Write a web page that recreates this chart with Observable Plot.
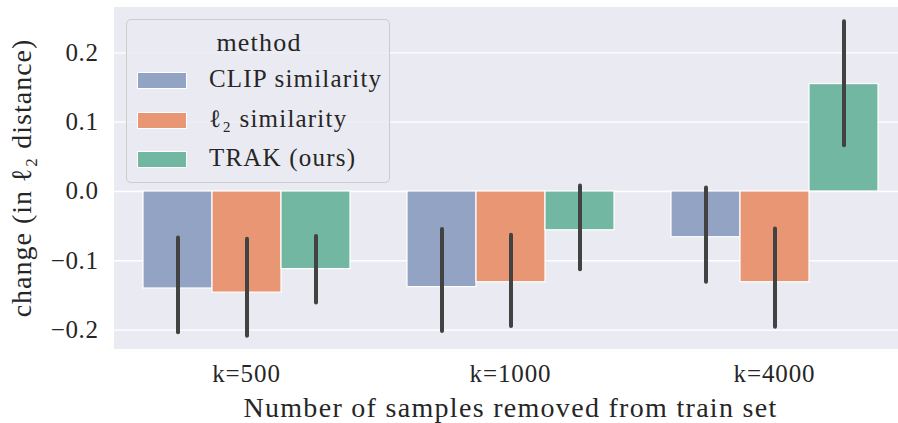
<!DOCTYPE html>
<html>
<head>
<meta charset="utf-8">
<script src="https://cdn.jsdelivr.net/npm/d3@7"></script>
<script src="https://cdn.jsdelivr.net/npm/@observablehq/plot@0.6"></script>
<style>
  html, body { margin: 0; padding: 0; background: #fff; }
  #wrap { position: relative; width: 898px; height: 423px; overflow: hidden; }
  #wrap svg { max-width: none !important; width: 910px; height: 423px; font-family: "Liberation Serif", "DejaVu Serif", serif; }
  g[aria-label="fx-axis label"] text { font-size: 28px; letter-spacing: 1.3px; }
  g[aria-label="y-axis label"] text { font-size: 28px; letter-spacing: 1px; }
  g[aria-label="fx-axis tick label"] text { font-size: 25px; letter-spacing: 0.9px; }
  g[aria-label="y-axis tick label"] text { font-size: 25px; letter-spacing: 0.6px; }
  #legend {
    position: absolute; left: 126px; top: 19px; width: 264px; height: 164px;
    box-sizing: border-box; border: 1px solid #cccccc; border-radius: 5px;
    background: rgba(234,234,242,0.85);
    font-family: "Liberation Serif", "DejaVu Serif", serif; font-size: 25px; color: #262626; letter-spacing: 1.2px;
  }
  #legend .title { position: absolute; left: 0; width: 264px; top: 8px; text-align: center; padding-left: 0px; box-sizing: border-box; font-size: 26px;}
  #legend .row { position: absolute; left: 10px; height: 20px; }
  #legend .sw { position: absolute; left: 0; top: 0; width: 50px; height: 17px; border: 1px solid #fff; box-sizing: border-box; }
  #legend .lab { position: absolute; left: 72px; top: -8px; white-space: nowrap; line-height: 30px; }
</style>
</head>
<body>
<div id="wrap"></div>
<script>
const categories = ["k=500", "k=1000", "k=4000"];
const methods = ["CLIP similarity", "ℓ₂ similarity", "TRAK (ours)"];
const colors = ["#93a3c3", "#e99674", "#72b7a1"];
const clipMean = [-0.140, -0.138, -0.066];
const l2Mean   = [-0.146, -0.131, -0.131];
const trakMean = [-0.112, -0.056, 0.155];
const clipLo = [-0.204, -0.202, -0.131];
const clipHi = [-0.067, -0.055, 0.005];
const l2Lo   = [-0.209, -0.195, -0.196];
const l2Hi   = [-0.069, -0.063, -0.054];
const trakLo = [-0.161, -0.113, 0.066];
const trakHi = [-0.065, 0.008, 0.245];
const yTicks = [-0.2, -0.1, 0.0, 0.1, 0.2];

const means = [clipMean, l2Mean, trakMean];
const los = [clipLo, l2Lo, trakLo];
const his = [clipHi, l2Hi, trakHi];
const rows = [];
methods.forEach((m, mi) => categories.forEach((c, ci) => {
  rows.push({category: c, method: m, value: means[mi][ci], lo: los[mi][ci], hi: his[mi][ci]});
}));

const chart = Plot.plot({
  width: 910,
  height: 423,
  marginLeft: 113,
  marginRight: 3,
  marginTop: 7,
  marginBottom: 75,
  style: {fontSize: "24px", fontFamily: "'Liberation Serif', 'DejaVu Serif', serif", color: "#262626", background: "#fff"},
  fx: {domain: categories, padding: 0, label: "Number of samples removed from train set", labelAnchor: "center", labelOffset: 68, tickSize: 0, tickPadding: 16, axis: "bottom"},
  x: {domain: methods, paddingInner: 0, paddingOuter: 0.393, axis: null},
  y: {domain: [-0.2266, 0.2655], ticks: yTicks, tickFormat: d3.format(".1f"), tickSize: 0, tickPadding: 16,
      label: "change (in ℓ₂ distance)", labelAnchor: "center", labelOffset: 103, labelArrow: "none"},
  color: {domain: methods, range: colors},
  marks: [
    Plot.frame({fill: "#eaeaf2", stroke: "#eaeaf2", strokeWidth: 1}),
    Plot.gridY(yTicks, {stroke: "#fff", strokeOpacity: 1, strokeWidth: 1.3}),
    Plot.barY(rows, {fx: "category", x: "method", y: "value", fill: "method", stroke: "#fff", strokeWidth: 1.2}),
    Plot.ruleX(rows, {fx: "category", x: "method", y1: "lo", y2: "hi", stroke: "#424242", strokeWidth: 4, strokeLinecap: "round"})
  ]
});
chart.querySelectorAll('g[aria-label="y-axis label"] text, g[aria-label="fx-axis label"] text').forEach(t => {
  t.textContent = t.textContent.replace(/\s*[↑↓←→]\s*/g, "").trim();
});
const wrap = document.getElementById("wrap");
wrap.appendChild(chart);

const legend = document.createElement("div");
legend.id = "legend";
let html = `<div class="title">method</div>`;
methods.forEach((m, i) => {
  html += `<div class="row" style="top:${52 + i * 39.5}px"><div class="sw" style="background:${colors[i]}"></div><div class="lab">${m}</div></div>`;
});
legend.innerHTML = html;
wrap.appendChild(legend);
</script>
</body>
</html>
